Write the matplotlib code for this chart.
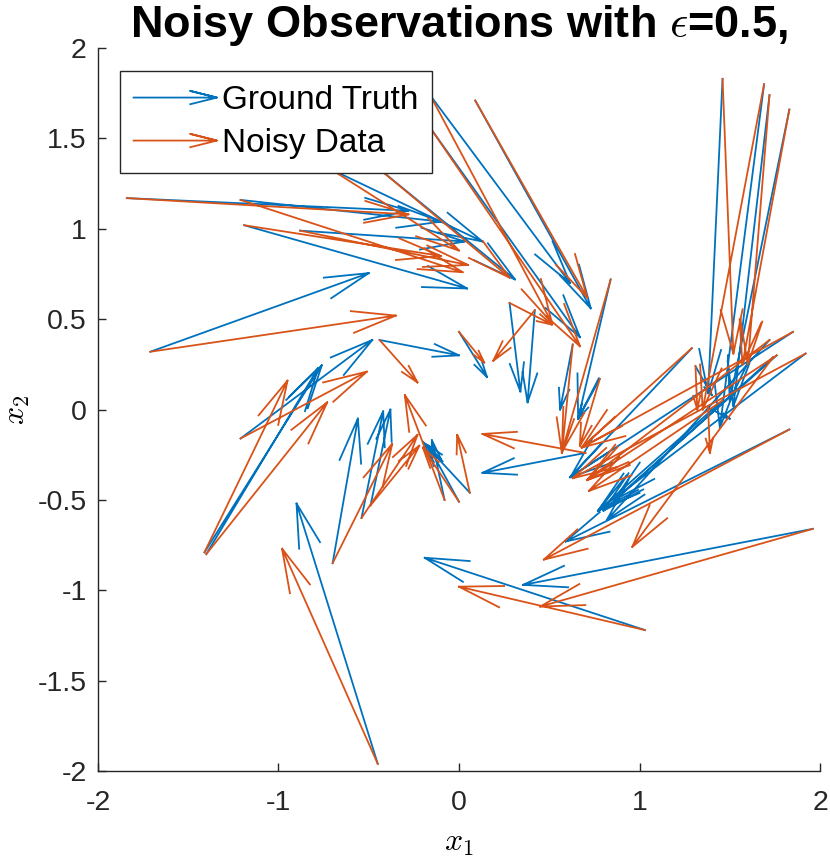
import numpy as np
import matplotlib
matplotlib.use('Agg')
import matplotlib.pyplot as plt
from matplotlib.lines import Line2D
from matplotlib.legend_handler import HandlerBase

plt.rcParams['font.family'] = ['Liberation Sans', 'DejaVu Sans']
plt.rcParams['mathtext.fontset'] = 'cm'

# observation points (tails)
x0 = [-1.84, -1.21, -1.19, -1.71, -0.71, -0.44, -0.16, 0.09, -0.16, -0.88,
      -1.41, -1.40, -1.21, -0.44, -0.70, -0.54, -0.49, 0.06, 0.00, -0.08,
      -0.45, 1.03, 1.96, 1.83, 1.74, 1.92, 1.85, 1.72, 1.29, 1.46,
      1.69, 1.72, 1.83, 1.31, 1.38, 0.28, 0.42, 0.84, 0.70, 0.00,
      0.63, 0.78, 1.76, 1.46]
y0 = [1.17, 1.16, 1.02, 0.32, 1.33, 1.33, 1.74, 1.71, 1.56, 0.99,
      -0.79, -0.80, -0.16, 0.385, -0.85, -0.60, -0.53, -0.46, -0.51, -0.50,
      -1.96, -1.22, -0.66, -0.11, 0.29, 0.31, 0.43, 0.385, 0.34, 1.83,
      1.80, 1.74, 1.66, 0.24, 0.01, 0.59, 0.55, 0.72, -0.24, 0.43,
      0.36, 0.17, 0.30, 0.05]

# ground truth arrow tips
gt_x = [-0.28, -0.10, 0.045, -0.50, 0.13, 0.31, 0.615, 0.73, 0.67, 0.03,
        -0.76, -0.78, -0.48, 0.00, -0.56, -0.42, -0.38, -0.20, -0.17, -0.15,
        -0.90, -0.19, 0.355, 0.59, 0.80, 0.77, 0.615, 0.82, 0.62, 1.38,
        1.445, 1.52, 1.50, 1.40, 1.50, 0.34, 0.38, 0.66, 0.13, 0.155,
        0.56, 0.66, 0.86, 0.77]
gt_y = [1.10, 1.04, 0.67, 0.755, 0.93, 0.72, 0.70, 0.56, 0.40, 0.93,
        0.245, 0.23, 0.385, 0.30, -0.05, -0.01, 0.00, -0.18, -0.20, -0.17,
        -0.52, -0.82, -0.97, -0.73, -0.56, -0.56, -0.375, -0.61, -0.37, 0.09,
        -0.10, 0.02, 0.05, 0.08, -0.05, 0.10, 0.04, -0.05, -0.35, 0.18,
        0.00, -0.05, -0.50, -0.56]

# noisy arrow tips
ns_x = [-0.28, 0.02, -0.10, -0.35, 0.00, 0.28, 0.515, 0.71, 0.67, 0.05,
        -0.95, -0.73, -0.51, -0.23, -0.37, -0.23, -0.22, -0.01, -0.20, -0.30,
        -0.98, 0.00, 0.45, 0.47, 0.96, 0.63, 0.68, 0.71, 0.68, 1.52,
        1.35, 1.60, 1.57, 1.32, 1.39, 0.515, 0.19, 0.57, 0.13, 0.14,
        0.57, 0.67, 0.71, 0.72]
ns_y = [1.08, 0.76, 0.85, 0.52, 0.88, 0.73, 0.48, 0.62, 0.35, 0.80,
        0.16, 0.04, 0.21, 0.15, -0.19, -0.14, -0.20, -0.14, -0.21, 0.08,
        -0.77, -0.98, -1.09, -0.83, -0.76, -0.38, -0.21, -0.39, -0.21, 0.31,
        0.00, 0.25, 0.25, 0.00, -0.24, 0.47, 0.27, -0.235, -0.135, 0.26,
        -0.24, -0.20, -0.39, -0.45]

blue = '#0072BD'
orange = '#D95319'


def arrow_path(xs, ys, xe, ye):
    px, py = [], []
    for a, b, c, d in zip(xs, ys, xe, ye):
        dx, dy = c - a, d - b
        L = np.hypot(dx, dy)
        h = min(0.33 * L, 0.25)
        ang = np.arctan2(dy, dx)
        t = np.radians(14)
        b1 = (c - h * np.cos(ang - t), d - h * np.sin(ang - t))
        b2 = (c - h * np.cos(ang + t), d - h * np.sin(ang + t))
        px += [a, c, np.nan, b1[0], c, b2[0], np.nan]
        py += [b, d, np.nan, b1[1], d, b2[1], np.nan]
    return px, py


class ArrowHandler(HandlerBase):
    def create_artists(self, legend, orig_handle, xdescent, ydescent,
                       width, height, fontsize, trans):
        y = height / 2 - ydescent
        xa, xb = -xdescent, width - xdescent
        hl = 0.32 * width
        hw = hl * np.tan(np.radians(14))
        ln = Line2D([xa, xb, xb - hl, xb, xb - hl], [y, y, y + hw, y, y - hw],
                    color=orig_handle.get_color(), lw=1.3, transform=trans)
        return [ln]


fig = plt.figure(figsize=(8.30, 8.59), dpi=100)
ax = fig.add_axes([0.118, 0.1024, 0.870, 0.8416])

bx, by = arrow_path(x0, y0, gt_x, gt_y)
ox, oy = arrow_path(x0, y0, ns_x, ns_y)
ax.plot(bx, by, color=blue, lw=1.3)
ax.plot(ox, oy, color=orange, lw=1.3)

ax.set_xlim(-2, 2)
ax.set_ylim(-2, 2)
ax.set_xticks([-2, -1, 0, 1, 2])
ax.set_xticklabels(['-2', '-1', '0', '1', '2'])
yt = [-2, -1.5, -1, -0.5, 0, 0.5, 1, 1.5, 2]
ax.set_yticks(yt)
ax.set_yticklabels(['-2', '-1.5', '-1', '-0.5', '0', '0.5', '1', '1.5', '2'])
ax.tick_params(direction='in', length=6, width=1, colors='0.15',
               labelsize=20.5)
ax.tick_params(axis='y', pad=8)
ax.tick_params(axis='x', pad=14)
for s in ['top', 'right']:
    ax.spines[s].set_visible(False)
for s in ['left', 'bottom']:
    ax.spines[s].set_color('0.15')
    ax.spines[s].set_linewidth(1)

ax.set_xlabel('$x_1$', fontsize=23, labelpad=8)
ax.set_ylabel('$x_2$', fontsize=23, labelpad=4)
ax.set_title(r'Noisy Observations with $\epsilon$=0.5,', fontsize=32.5,
             fontweight='bold', pad=7)

h1 = Line2D([], [], color=blue)
h2 = Line2D([], [], color=orange)
leg = ax.legend([h1, h2], ['Ground Truth', 'Noisy Data'],
                handler_map={Line2D: ArrowHandler()},
                loc='upper left', bbox_to_anchor=(0.03, 0.968),
                borderaxespad=0, fontsize=24, handlelength=2.5,
                handletextpad=0.15, fancybox=False, framealpha=1,
                edgecolor='0.15', borderpad=0.42, labelspacing=0.36)
leg.get_frame().set_linewidth(1)

fig.savefig('out.png', dpi=100)
